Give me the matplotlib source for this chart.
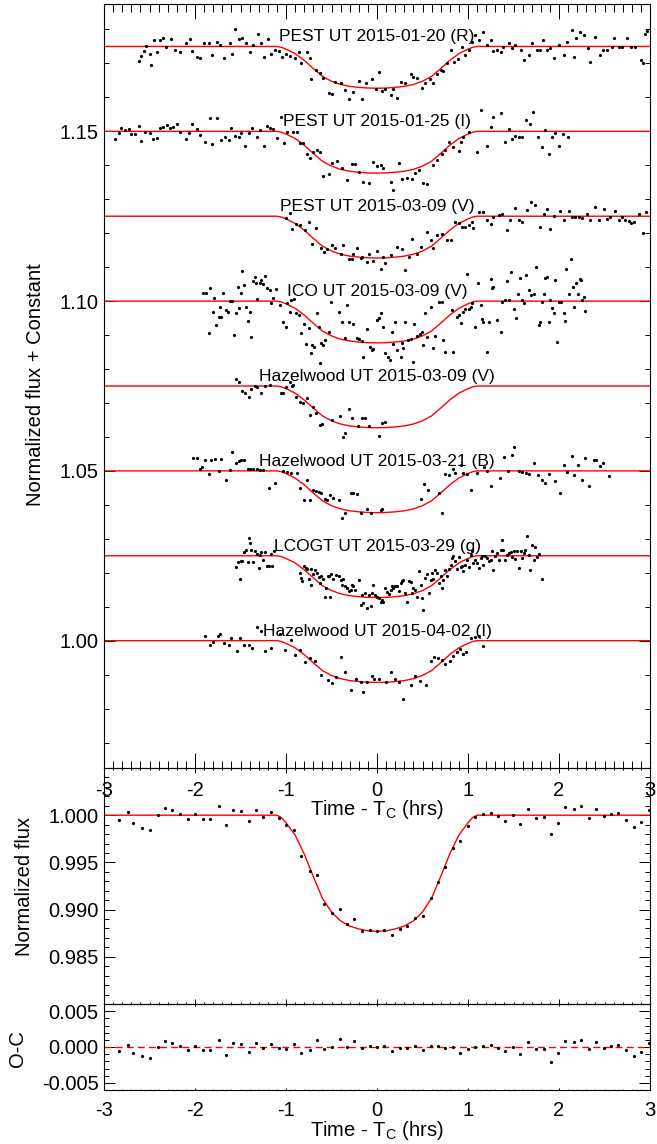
import numpy as np
import matplotlib
matplotlib.use("Agg")
from matplotlib import pyplot as plt
from matplotlib.ticker import MultipleLocator, FixedLocator, FormatStrFormatter

plt.rcParams["font.family"] = ["Liberation Sans", "DejaVu Sans"]
plt.rcParams["mathtext.fontset"] = "custom"
plt.rcParams["mathtext.rm"] = "Liberation Sans"
plt.rcParams["axes.unicode_minus"] = False

# transit model (time from mid-transit in hrs, normalized flux)
model_t = [-3.0, -1.10, -1.05, -1.00, -0.90, -0.80, -0.70, -0.60, -0.50, -0.40, -0.30, -0.20, -0.10,
           0.00, 0.10, 0.20, 0.30, 0.40, 0.50, 0.60, 0.70, 0.80, 0.90, 1.00, 1.05, 1.10, 3.0]
model_f = [1.0, 1.0, 0.99975, 0.99920, 0.99790, 0.99590, 0.99350, 0.99120, 0.98975, 0.98880, 0.98825,
           0.98795, 0.98775, 0.98770, 0.98775, 0.98795, 0.98825, 0.98880, 0.98975, 0.99120, 0.99350,
           0.99590, 0.99790, 0.99920, 0.99975, 1.0, 1.0]

# individual light curves: (time [hrs], flux deviation from baseline [1e-3])
pest_0120 = [
    (-2.61, -4.3), (-2.59, -2.8), (-2.56, -1.3), (-2.54, 0.2), (-2.50, -2.1), (-2.48, -5.6), (-2.45, 1.9),
    (-2.42, -1.6), (-2.38, 1.9), (-2.35, 2.4), (-2.32, -0.1), (-2.26, 2.1), (-2.22, -0.9), (-2.17, -1.6),
    (-2.10, 1.1), (-2.06, 2.2), (-2.03, -1.3), (-1.98, -3.0), (-1.95, -3.5), (-1.90, 1.1), (-1.85, 0.9),
    (-1.81, -2.5), (-1.76, 1.4), (-1.73, 0.4), (-1.68, -3.5), (-1.62, 1.1), (-1.59, -2.3), (-1.56, 5.0),
    (-1.52, 2.1), (-1.48, 2.6), (-1.44, 0.9), (-1.40, -1.6), (-1.36, 0.4), (-1.31, 3.8), (-1.27, 0.9),
    (-1.24, -3.0), (-1.20, 2.1), (-1.16, -2.1), (-1.12, -1.1), (-1.08, -1.3), (-1.04, -3.2), (-1.00, -2.1),
    (-0.96, -2.8), (-0.90, -3.5), (-0.86, -1.6), (-0.83, -5.0), (-0.77, -1.6), (-0.74, -3.5), (-0.72, -9.7),
    (-0.67, -7.0), (-0.63, -7.9), (-0.59, -9.4), (-0.53, -13.8), (-0.50, -14.0), (-0.46, -10.4),
    (-0.40, -10.7), (-0.35, -12.8), (-0.31, -15.6), (-0.26, -13.3), (-0.20, -10.1), (-0.16, -15.6),
    (-0.12, -10.9), (-0.05, -9.7), (-0.01, -12.6), (0.02, -7.5), (0.05, -13.0), (0.09, -12.6),
    (0.15, -14.3), (0.18, -12.4), (0.22, -15.3), (0.26, -10.4), (0.31, -10.7), (0.37, -8.1), (0.40, -9.1),
    (0.44, -9.4), (0.49, -12.1), (0.53, -10.7), (0.58, -9.7), (0.62, -10.7), (0.66, -8.1), (0.70, -7.0),
    (0.73, -7.2), (0.77, -4.8), (0.81, -1.1), (0.85, -4.5), (0.89, -3.8), (0.93, -0.1), (0.97, -2.5),
    (1.01, -1.1), (1.04, 1.4), (1.08, 3.3), (1.12, 1.9), (1.16, 4.3), (1.21, 0.4), (1.25, 1.9),
    (1.28, -1.3), (1.32, -1.1), (1.36, -1.6), (1.39, -0.1), (1.45, 0.9), (1.48, -0.6), (1.52, 0.4),
    (1.58, -1.1), (1.61, -4.0), (1.67, -2.5), (1.70, 0.9), (1.76, -0.9), (1.79, -1.1), (1.82, 1.9),
    (1.87, -1.1), (1.90, -0.6), (1.95, -3.5), (2.00, 0.4), (2.05, -2.5), (2.09, 1.4), (2.14, 4.8),
    (2.17, -3.0), (2.19, 2.4), (2.23, 4.3), (2.27, 3.3), (2.32, -0.6), (2.34, -4.5), (2.40, 2.8),
    (2.45, -2.5), (2.48, -0.9), (2.53, -1.1), (2.58, -0.1), (2.60, 2.6), (2.66, -0.1), (2.69, -0.1),
    (2.75, 2.6), (2.79, -0.1), (2.84, -0.1), (2.90, -4.0), (2.92, -4.8), (2.95, 3.8), (2.97, 4.6)]

pest_0125 = [
    (-2.88, -2.4), (-2.84, -0.4), (-2.81, 0.9), (-2.77, 0.4), (-2.73, 0.6), (-2.70, -0.8), (-2.66, -0.8),
    (-2.62, 1.6), (-2.59, -2.8), (-2.55, -0.1), (-2.49, -0.6), (-2.46, -2.2), (-2.42, -2.1), (-2.38, 0.9),
    (-2.35, 1.4), (-2.31, 1.9), (-2.27, 0.9), (-2.24, 1.4), (-2.20, 2.2), (-2.16, -0.1), (-2.10, -2.2),
    (-2.07, -0.4), (-2.03, 2.2), (-1.98, 0.6), (-1.95, -1.1), (-1.89, -3.0), (-1.84, 3.8), (-1.81, -3.8),
    (-1.76, 3.8), (-1.71, -2.5), (-1.67, -1.6), (-1.63, -2.5), (-1.60, 1.1), (-1.56, -1.4), (-1.52, -1.8),
    (-1.49, -0.6), (-1.45, -4.2), (-1.41, -0.4), (-1.37, 0.9), (-1.32, -1.6), (-1.29, 0.4), (-1.24, -4.2),
    (-1.21, 1.6), (-1.18, 0.9), (-1.14, 0.6), (-1.10, -2.1), (-1.05, 4.1), (-1.02, -3.3), (-0.99, -0.1),
    (-0.92, -0.1), (-0.88, -0.1), (-0.85, -3.5), (-0.81, -3.3), (-0.77, -6.7), (-0.74, -8.0), (-0.70, -6.0),
    (-0.66, -5.5), (-0.63, -6.0), (-0.59, -13.3), (-0.53, -12.5), (-0.49, -9.4), (-0.44, -8.6),
    (-0.38, -10.9), (-0.33, -14.3), (-0.27, -9.6), (-0.24, -9.6), (-0.20, -11.9), (-0.15, -14.9),
    (-0.09, -15.2), (-0.04, -8.9), (0.00, -10.2), (0.04, -9.9), (0.07, -10.9), (0.15, -14.9), (0.18, -17.3),
    (0.24, -9.4), (0.27, -14.1), (0.33, -13.7), (0.38, -14.1), (0.42, -12.4), (0.46, -11.4), (0.51, -15.1),
    (0.55, -15.6), (0.62, -9.9), (0.66, -8.4), (0.71, -6.7), (0.75, -5.5), (0.79, -3.0), (0.84, -4.5),
    (0.90, -5.7), (0.92, -3.0), (0.95, -1.8), (1.01, -0.1), (1.10, -6.0), (1.14, 6.3), (1.21, -4.2),
    (1.25, 1.4), (1.28, 4.3), (1.36, 5.3), (1.41, -3.0), (1.45, 0.6), (1.48, -2.4), (1.52, -1.4),
    (1.56, -1.6), (1.59, -1.6), (1.64, 3.3), (1.68, 2.1), (1.71, 5.8), (1.77, -1.8), (1.81, -4.5),
    (1.85, 0.4), (1.89, -6.7), (1.92, -1.8), (1.96, -0.6), (2.00, -4.3), (2.04, -0.9), (2.10, -1.8)]

pest_0309 = [
    (-1.00, -0.4), (-0.96, 1.0), (-0.93, -3.9), (-0.89, -2.4), (-0.85, -2.5), (-0.79, -4.1), (-0.75, -1.6),
    (-0.71, -8.2), (-0.67, -3.4), (-0.62, -9.5), (-0.58, -10.4), (-0.55, -9.8), (-0.49, -8.5), (-0.46, -9.5),
    (-0.40, -11.0), (-0.37, -8.5), (-0.31, -12.5), (-0.27, -12.5), (-0.26, -11.0), (-0.22, -9.5),
    (-0.18, -12.2), (-0.16, -12.0), (-0.11, -13.4), (-0.09, -11.0), (-0.04, -13.1), (0.00, -10.2),
    (0.04, -15.4), (0.07, -12.0), (0.09, -13.9), (0.15, -11.5), (0.22, -9.0), (0.27, -9.8), (0.31, -15.7),
    (0.35, -12.0), (0.38, -6.6), (0.44, -11.0), (0.48, -9.0), (0.55, -4.6), (0.59, -7.1), (0.62, -9.5),
    (0.66, -5.6), (0.71, -5.1), (0.77, -7.1), (0.81, -7.1), (0.86, -1.6), (0.90, -2.0), (0.93, -3.1),
    (0.97, -3.1), (1.01, -2.6), (1.04, -1.6), (1.06, -3.6), (1.12, 1.3), (1.17, 1.3), (1.21, -1.2),
    (1.25, -2.2), (1.28, -0.2), (1.34, 0.3), (1.37, 0.8), (1.43, -4.1), (1.46, -1.2), (1.52, 2.5),
    (1.56, -1.2), (1.59, -1.6), (1.65, 1.8), (1.69, 4.2), (1.74, 3.2), (1.79, -3.1), (1.83, 0.8),
    (1.87, 2.2), (1.90, -3.9), (1.95, 0.0), (2.01, 1.5), (2.05, -1.2), (2.11, 1.5), (2.14, -0.2),
    (2.18, -0.2), (2.22, -0.2), (2.25, -0.4), (2.31, 0.8), (2.34, -1.2), (2.40, 2.7), (2.44, -1.2),
    (2.49, 2.0), (2.53, -0.7), (2.56, -0.2), (2.61, 1.5), (2.66, -1.0), (2.69, -0.2), (2.73, -1.2),
    (2.77, -1.4), (2.79, -2.0), (2.82, -1.7), (2.88, 0.8), (2.92, -4.9), (2.96, 1.3)]

ico_0309 = [
    (-1.91, 2.3), (-1.88, 2.3), (-1.85, -9.3), (-1.83, 3.9), (-1.80, -3.1), (-1.79, 0.8), (-1.77, -7.0),
    (-1.74, -4.6), (-1.73, -1.7), (-1.71, -4.6), (-1.69, 2.5), (-1.66, -2.6), (-1.64, -3.1), (-1.62, 0.1),
    (-1.59, 0.1), (-1.57, -10.0), (-1.55, -3.6), (-1.53, 4.2), (-1.52, -2.1), (-1.50, 2.5), (-1.48, 8.8),
    (-1.46, 4.7), (-1.44, -1.7), (-1.42, -5.8), (-1.40, -3.1), (-1.38, -10.7), (-1.36, 6.0), (-1.34, 7.0),
    (-1.33, 5.2), (-1.32, 0.5), (-1.29, 5.2), (-1.27, 6.1), (-1.25, 4.9), (-1.23, 7.4), (-1.21, 4.0),
    (-1.18, 3.2), (-1.16, -0.7), (-1.14, 0.8), (-1.11, 3.7), (-1.07, -1.2), (-1.03, -6.1), (-1.00, -7.5),
    (-0.99, -0.7), (-0.96, -3.1), (-0.94, 0.3), (-0.91, 0.5), (-0.89, -3.6), (-0.86, -4.1), (-0.83, -9.5),
    (-0.80, -6.6), (-0.78, -12.7), (-0.75, -8.0), (-0.73, -15.4), (-0.71, -12.9), (-0.69, -13.4),
    (-0.66, -3.6), (-0.64, -7.7), (-0.63, -18.3), (-0.61, -12.2), (-0.59, -12.9), (-0.57, -11.4),
    (-0.53, -9.0), (-0.51, -0.2), (-0.42, -3.1), (-0.38, -6.1), (-0.35, -11.0), (-0.33, -1.2), (-0.31, -6.1),
    (-0.26, -6.8), (-0.22, -11.0), (-0.20, -11.3), (-0.16, -11.7), (-0.15, -16.4), (-0.11, -8.2),
    (-0.08, -13.4), (-0.05, -14.4), (-0.04, -14.2), (0.00, -5.6), (0.02, -5.1), (0.04, -3.6), (0.07, -7.7),
    (0.09, -15.2), (0.12, -16.6), (0.14, -17.2), (0.16, -9.0), (0.18, -12.6), (0.20, -6.1), (0.22, -14.4),
    (0.26, -16.4), (0.27, -12.4), (0.29, -13.9), (0.31, -6.1), (0.34, -11.6), (0.37, -11.3), (0.40, -17.8),
    (0.41, -6.7), (0.44, -10.3), (0.47, -9.7), (0.49, -9.0), (0.51, -12.9), (0.53, -3.4), (0.55, -10.7),
    (0.59, -1.7), (0.62, -13.9), (0.64, -10.3), (0.68, -0.2), (0.71, -0.2), (0.73, -11.5), (0.75, -15.0),
    (0.82, -2.6), (0.84, -15.1), (0.88, -4.6), (0.90, -4.1), (0.92, -6.4), (0.95, -3.1), (0.97, -2.4),
    (0.99, 7.9), (1.01, -2.2), (1.03, -1.7), (1.04, -0.7), (1.08, -7.5), (1.11, 5.4), (1.14, -1.2),
    (1.15, -5.4), (1.17, -6.1), (1.21, -14.9), (1.23, -6.1), (1.25, 6.4), (1.26, 4.0), (1.28, 4.2),
    (1.32, -5.6), (1.36, -9.0), (1.37, -0.2), (1.41, 0.3), (1.43, 6.0), (1.45, 0.3), (1.47, 8.6),
    (1.50, -2.4), (1.53, -5.1), (1.55, 2.2), (1.57, 6.9), (1.59, 0.3), (1.61, -0.7), (1.64, 7.6),
    (1.67, 3.2), (1.69, 1.8), (1.72, 2.2), (1.75, 9.9), (1.78, -7.0), (1.79, -6.1), (1.81, -0.2),
    (1.83, 2.2), (1.85, 6.9), (1.87, 7.2), (1.89, -6.1), (1.90, 0.3), (1.92, -2.1), (1.94, -3.6),
    (1.96, 6.2), (1.98, -11.9), (2.00, -0.2), (2.02, -0.2), (2.05, -3.6), (2.07, -5.8), (2.08, 9.6),
    (2.11, 2.2), (2.13, 12.5), (2.15, 4.2), (2.17, -1.7), (2.19, 5.4), (2.21, 2.2), (2.23, 6.4),
    (2.24, 6.2), (2.25, 0.3), (2.27, 1.2), (2.29, -2.8)]

hzl_0309 = [
    (-1.55, 2.0), (-1.52, 1.3), (-1.48, -1.4), (-1.45, -2.0), (-1.41, -3.3), (-1.38, -1.0), (-1.34, 0.0),
    (-1.32, -0.2), (-1.27, -2.0), (-1.23, 0.0), (-1.18, 0.3), (-1.05, -2.0), (-1.03, -2.2), (-1.00, -0.2),
    (-0.96, 1.3), (-0.93, 0.0), (-0.92, 0.3), (-0.89, -3.1), (-0.85, -4.6), (-0.81, -4.9), (-0.77, -3.6),
    (-0.74, -8.6), (-0.70, -6.1), (-0.67, -8.0), (-0.63, -11.6), (-0.60, -11.1), (-0.49, -10.0),
    (-0.41, -8.7), (-0.37, -14.9), (-0.35, -13.7), (-0.31, -6.9), (-0.27, -9.4), (-0.21, -11.8),
    (-0.16, -9.4), (-0.13, -9.4), (-0.09, -11.8), (0.02, -14.7), (0.05, -10.8), (0.09, -10.5)]

hzl_0321 = [
    (-2.02, 3.9), (-1.98, 3.9), (-1.95, 0.7), (-1.92, 1.2), (-1.89, 3.1), (-1.85, -1.0), (-1.82, 3.1),
    (-1.78, 3.6), (-1.74, 0.0), (-1.71, 3.6), (-1.66, -2.7), (-1.62, 0.2), (-1.59, 5.6), (-1.55, 2.2),
    (-1.52, 2.9), (-1.50, 3.1), (-1.46, 3.1), (-1.42, 0.7), (-1.40, 0.7), (-1.36, 0.7), (-1.32, 0.7),
    (-1.29, 0.2), (-1.25, 0.4), (-1.19, -4.9), (-1.12, -3.7), (-1.03, 0.0), (-0.99, -0.3), (-0.94, -0.6),
    (-0.88, -0.6), (-0.85, -5.1), (-0.80, -8.6), (-0.77, -2.7), (-0.74, -8.6), (-0.70, -5.7), (-0.67, -5.9),
    (-0.64, -6.2), (-0.61, -6.5), (-0.57, -8.2), (-0.55, -8.6), (-0.52, -7.1), (-0.48, -8.1), (-0.42, -8.6),
    (-0.38, -14.0), (-0.35, -12.4), (-0.29, -6.5), (-0.26, -6.5), (-0.22, -6.9), (-0.18, -12.4),
    (-0.11, -11.1), (-0.07, -12.5), (0.04, -11.4), (0.05, -11.1), (0.48, -8.4), (0.52, -3.9), (0.56, -5.5),
    (0.68, -6.5), (0.71, -12.5), (0.75, -1.0), (0.79, -1.3), (0.84, 0.7), (0.86, -0.6), (0.92, 1.6),
    (0.95, -0.6), (0.99, -0.8), (1.03, -5.7), (1.10, -0.6), (1.18, 1.0), (1.21, 0.0), (1.25, -4.5),
    (1.35, -2.2), (1.40, 4.1), (1.44, 0.0), (1.48, 4.6), (1.51, 6.9), (1.56, 0.0), (1.59, -0.3),
    (1.64, -0.6), (1.67, -0.8), (1.72, 2.2), (1.77, -1.3), (1.81, -2.7), (1.85, -3.5), (1.89, -1.0),
    (1.96, -2.9), (2.01, -6.5), (2.05, 1.7), (2.09, -0.3), (2.14, 4.3), (2.17, -1.3), (2.21, 1.7),
    (2.25, -2.7), (2.29, 3.9), (2.33, -4.5), (2.38, 3.3), (2.41, 3.3), (2.45, 1.4), (2.48, 2.3),
    (2.55, -1.6)]

lcogt_0329 = [
    (-1.55, -3.3), (-1.53, -1.7), (-1.51, -6.7), (-1.50, -1.5), (-1.48, -1.4), (-1.46, 1.0), (-1.44, 1.6),
    (-1.42, -1.7), (-1.41, 5.2), (-1.40, 3.7), (-1.38, 1.8), (-1.36, -1.7), (-1.34, 1.3), (-1.32, 0.6),
    (-1.30, -3.6), (-1.29, 0.3), (-1.27, 1.0), (-1.25, -1.2), (-1.23, 1.0), (-1.21, -2.9), (-1.19, -3.1),
    (-1.17, 0.6), (-1.15, -2.9), (-1.13, 1.3), (-0.85, -5.1), (-0.84, -6.5), (-0.82, -7.5), (-0.80, -2.9),
    (-0.78, -3.6), (-0.77, -3.9), (-0.75, -6.9), (-0.73, -8.5), (-0.72, -3.9), (-0.70, -5.5), (-0.68, -4.2),
    (-0.66, -5.1), (-0.64, -6.3), (-0.63, -8.0), (-0.61, -5.9), (-0.59, -6.9), (-0.57, -12.0),
    (-0.56, -9.6), (-0.54, -6.1), (-0.53, -6.1), (-0.52, -12.0), (-0.51, -5.5), (-0.48, -6.9),
    (-0.45, -5.6), (-0.42, -6.1), (-0.40, -7.1), (-0.38, -8.5), (-0.37, -6.9), (-0.35, -9.0), (-0.33, -9.5),
    (-0.31, -10.5), (-0.29, -10.0), (-0.27, -8.5), (-0.26, -9.0), (-0.24, -10.0), (-0.20, -7.1),
    (-0.18, -14.4), (-0.16, -11.5), (-0.15, -13.9), (-0.13, -11.0), (-0.11, -15.4), (-0.09, -11.5),
    (-0.07, -14.7), (-0.05, -11.0), (-0.04, -8.5), (-0.02, -11.5), (0.00, -12.0), (0.02, -12.5),
    (0.04, -13.5), (0.05, -13.0), (0.07, -13.5), (0.09, -9.5), (0.11, -10.8), (0.13, -11.2), (0.15, -10.0),
    (0.16, -8.8), (0.18, -9.5), (0.20, -9.0), (0.22, -8.8), (0.24, -10.5), (0.26, -8.0), (0.27, -7.5),
    (0.29, -7.1), (0.31, -11.0), (0.33, -13.5), (0.35, -7.5), (0.37, -7.8), (0.38, -11.0), (0.40, -9.5),
    (0.42, -10.0), (0.44, -12.2), (0.46, -4.6), (0.48, -8.5), (0.49, -12.5), (0.51, -15.9), (0.53, -6.5),
    (0.55, -5.3), (0.57, -11.0), (0.59, -7.1), (0.60, -5.1), (0.62, -6.9), (0.64, -4.1), (0.66, -5.1),
    (0.68, -8.0), (0.70, -6.1), (0.71, -9.5), (0.73, -7.1), (0.75, -4.1), (0.77, -6.1), (0.79, -3.9),
    (0.81, -2.6), (0.82, -0.7), (0.84, -0.2), (0.86, -1.6), (0.88, -3.9), (0.90, -0.4), (0.92, -3.3),
    (0.93, -2.9), (0.95, -4.6), (0.97, -2.6), (0.99, -1.2), (1.01, -3.3), (1.03, 0.3), (1.04, 1.3),
    (1.06, -2.1), (1.08, -1.2), (1.10, -2.1), (1.12, -3.6), (1.14, -0.7), (1.15, 0.0), (1.17, -2.6),
    (1.19, -0.2), (1.21, -0.7), (1.23, -1.6), (1.25, -1.2), (1.26, 1.3), (1.28, -4.3), (1.30, -0.2),
    (1.32, 0.8), (1.34, -1.2), (1.36, 1.8), (1.37, 4.5), (1.39, 1.8), (1.41, -1.2), (1.43, 0.3),
    (1.45, 0.8), (1.47, 1.0), (1.48, -0.4), (1.50, 1.3), (1.52, -1.0), (1.54, 1.3), (1.56, -3.6),
    (1.58, 1.3), (1.59, -0.7), (1.61, 0.8), (1.63, 1.8), (1.65, 5.9), (1.67, 0.3), (1.68, -4.1),
    (1.70, 3.2), (1.72, -1.2), (1.74, 2.7), (1.76, -0.4), (1.78, 0.6), (1.81, -6.9)]

hzl_0402 = [
    (-1.89, 1.3), (-1.84, -1.4), (-1.80, -0.4), (-1.75, 1.3), (-1.72, 2.0), (-1.68, -0.7), (-1.63, -1.2),
    (-1.60, 0.8), (-1.54, -3.1), (-1.51, 0.8), (-1.46, -1.2), (-1.41, -1.2), (-1.37, -2.2), (-1.32, 4.0),
    (-1.28, 2.7), (-1.23, -2.9), (-1.17, -2.2), (-1.07, 2.0), (-1.01, -2.8), (-0.95, 0.1), (-0.90, -4.1),
    (-0.85, -2.8), (-0.79, -6.4), (-0.74, -5.1), (-0.68, -6.1), (-0.62, -10.0), (-0.54, -11.5),
    (-0.49, -12.6), (-0.45, -10.6), (-0.40, -4.8), (-0.35, -9.1), (-0.29, -14.4), (-0.23, -11.2),
    (-0.18, -12.3), (-0.15, -15.1), (-0.11, -12.3), (-0.06, -10.5), (-0.03, -11.3), (0.02, -11.3),
    (0.10, -12.3), (0.15, -9.3), (0.20, -11.3), (0.24, -12.1), (0.29, -17.3), (0.37, -13.2), (0.42, -10.3),
    (0.47, -12.0), (0.54, -13.2), (0.59, -5.9), (0.63, -4.8), (0.67, -5.1), (0.71, -5.8), (0.75, -6.8),
    (0.80, -6.1), (0.84, -4.4), (0.88, -3.4), (0.91, -2.6), (0.95, -3.8), (0.98, -3.4), (1.03, 0.8),
    (1.08, 1.1), (1.12, 1.3), (1.16, -1.5)]

curves = [pest_0120, pest_0125, pest_0309, ico_0309, hzl_0309, hzl_0321, lcogt_0329, hzl_0402]
labels = ["PEST UT 2015-01-20 (R)", "PEST UT 2015-01-25 (I)", "PEST UT 2015-03-09 (V)",
          "ICO UT 2015-03-09 (V)", "Hazelwood UT 2015-03-09 (V)", "Hazelwood UT 2015-03-21 (B)",
          "LCOGT UT 2015-03-29 (g)", "Hazelwood UT 2015-04-02 (I)"]
offsets = [1.175, 1.150, 1.125, 1.100, 1.075, 1.050, 1.025, 1.000]

# combined, binned light curve
bin_t = [-2.84, -2.74, -2.68, -2.58, -2.49, -2.41, -2.33, -2.25, -2.16, -2.08, -2.00, -1.91, -1.83,
         -1.74, -1.66, -1.58, -1.50, -1.41, -1.33, -1.25, -1.16, -1.08, -1.00, -0.91, -0.83, -0.74,
         -0.66, -0.58, -0.49, -0.41, -0.33, -0.25, -0.16, -0.08, 0.00, 0.08, 0.17, 0.25, 0.33, 0.42,
         0.50, 0.59, 0.67, 0.75, 0.83, 0.91, 1.00, 1.08, 1.16, 1.25, 1.33, 1.41, 1.49, 1.57, 1.66,
         1.75, 1.83, 1.91, 1.99, 2.07, 2.16, 2.24, 2.33, 2.41, 2.49, 2.57, 2.65, 2.74, 2.82, 2.90, 2.99]
bin_f = [0.99947, 1.00030, 0.99920, 0.99869, 0.99840, 1.00000, 1.00080, 1.00050, 1.00010, 0.99965,
         1.00014, 0.99965, 0.99965, 1.00096, 0.99894, 1.00050, 1.00040, 0.99936, 1.00050, 0.99986,
         1.00035, 0.99975, 0.99897, 0.99840, 0.99567, 0.99408, 0.99362, 0.99064, 0.98968, 0.99004,
         0.98847, 0.98900, 0.98769, 0.98783, 0.98776, 0.98783, 0.98730, 0.98790, 0.98826, 0.98907,
         0.98932, 0.99121, 0.99292, 0.99452, 0.99655, 0.99726, 0.99886, 0.99986, 1.00018, 1.00028,
         0.99993, 0.99940, 1.00004, 0.99904, 1.00064, 0.99968, 0.99979, 0.99797, 0.99915, 1.00089,
         1.00064, 1.00093, 0.99975, 1.00064, 0.99989, 1.00010, 1.00025, 0.99954, 0.99875, 0.99929,
         1.00060]

mid_ticks = [0.985, 0.990, 0.995, 1.000]
oc_ticks = [-0.005, 0.000, 0.005]

W, H = 657, 1144
L, R = 104, 650


def box(top, bottom):
    return [L / W, 1 - bottom / H, (R - L) / W, (bottom - top) / H]


def style_axis(ax, xlen, ylen, xpad=9):
    ax.set_facecolor("none")
    for sp in ax.spines.values():
        sp.set_linewidth(0.8)
    ax.xaxis.set_major_locator(MultipleLocator(1))
    ax.xaxis.set_minor_locator(MultipleLocator(0.1))
    ax.tick_params(which="both", direction="in", top=True, right=True, width=0.7, labelsize=14.5)
    ax.tick_params(axis="x", which="major", length=xlen, pad=xpad)
    ax.tick_params(axis="x", which="minor", length=xlen / 2)
    ax.tick_params(axis="y", which="major", length=ylen, pad=4)
    ax.tick_params(axis="y", which="minor", length=ylen / 2)
    ax.xaxis.set_major_formatter(FormatStrFormatter("%d"))
    ax.set_xlim(-3, 3)


fig = plt.figure(figsize=(W / 100, H / 100), dpi=100)
ax1 = fig.add_axes(box(4, 768))
ax2 = fig.add_axes(box(768, 1004))
ax3 = fig.add_axes(box(1004, 1090))
ax1.set_zorder(3)

dot = dict(marker="o", linestyle="none", color="black", ms=2.3, mew=0, zorder=3)

# stacked light curves
for data, name, off in zip(curves, labels, offsets):
    t, d = np.array(data).T
    ax1.plot(model_t, np.array(model_f) - 1 + off, color="red", lw=1.0, zorder=2)
    ax1.plot(t, off + d / 1000, **dot)
    ax1.text(0, off + 0.0015, name, ha="center", va="baseline", fontsize=12.5, zorder=4)
style_axis(ax1, 10.8, 7.9)
ax1.set_ylim(0.9625, 1.1875)
ax1.yaxis.set_major_locator(MultipleLocator(0.05))
ax1.yaxis.set_minor_locator(MultipleLocator(0.01))
ax1.yaxis.set_major_formatter(FormatStrFormatter("%.2f"))

# combined light curve
ax2.plot(model_t, model_f, color="red", lw=1.0, zorder=2)
ax2.plot(bin_t, bin_f, **dot)
style_axis(ax2, 3.4, 7.9)
ax2.set_ylim(0.980, 1.005)
ax2.yaxis.set_major_locator(FixedLocator(mid_ticks))
ax2.yaxis.set_minor_locator(MultipleLocator(0.001))
ax2.yaxis.set_major_formatter(FormatStrFormatter("%.3f"))
ax2.tick_params(axis="x", labelbottom=False)

# residuals
resid = np.array(bin_f) - np.interp(bin_t, model_t, model_f)
ax3.axhline(0, color="red", lw=1.0, dashes=(5, 3), zorder=2)
ax3.plot(bin_t, resid, **dot)
style_axis(ax3, 1.2, 7.9, xpad=8)
ax3.set_ylim(-0.006, 0.006)
ax3.yaxis.set_major_locator(FixedLocator(oc_ticks))
ax3.yaxis.set_minor_locator(MultipleLocator(0.001))
ax3.yaxis.set_major_formatter(FormatStrFormatter("%.3f"))

xlab = "Time - T$_\\mathregular{C}$ (hrs)"
fig.text(377 / W, 1 - 815 / H, xlab, ha="center", va="baseline", fontsize=14.5)
fig.text(377 / W, 1 - 1136 / H, xlab, ha="center", va="baseline", fontsize=14.5)
fig.text(36 / W, 1 - 385 / H, "Normalized flux + Constant", rotation=90, ha="center", va="center", fontsize=14.5)
fig.text(25 / W, 1 - 886 / H, "Normalized flux", rotation=90, ha="center", va="center", fontsize=14.5)
fig.text(17 / W, 1 - 1049 / H, "O-C", rotation=90, ha="center", va="center", fontsize=14.5)

fig.savefig("out.png", dpi=100)
